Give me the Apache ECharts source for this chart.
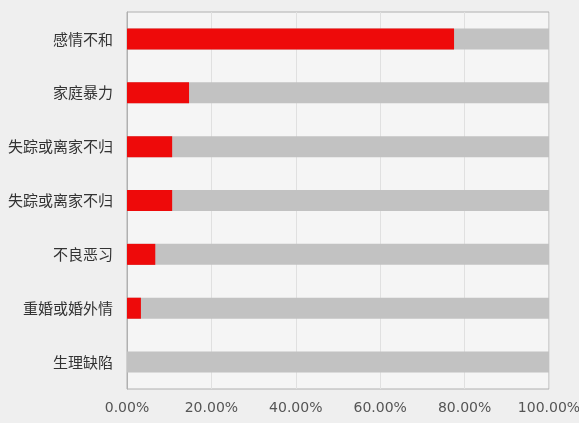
<!DOCTYPE html>
<html>
<head>
<meta charset="utf-8">
<script src="https://cdn.jsdelivr.net/npm/echarts@6/dist/echarts.min.js"></script>
<style>
html,body{margin:0;padding:0;background:#efefef;}
#c{width:579px;height:423px;}
</style>
</head>
<body>
<div id="c"></div>
<script>
const categories = ['感情不和','家庭暴力','失踪或离家不归','失踪或离家不归','不良恶习','重婚或婚外情','生理缺陷'];
const values = [77.5, 14.7, 10.7, 10.7, 6.7, 3.3, 0];
const totals = [100, 100, 100, 100, 100, 100, 100];
const xTicks = [0, 20, 40, 60, 80, 100];

const chart = echarts.init(document.getElementById('c'));
chart.setOption({
  backgroundColor: '#efefef',
  animation: false,
  grid: {
    left: 127, right: 30, top: 12, bottom: 34,
    containLabel: false, outerBoundsMode: 'none',
    show: true, backgroundColor: '#f5f5f5', borderColor: '#b0b0b0', borderWidth: 1
  },
  xAxis: {
    type: 'value', min: xTicks[0], max: xTicks[xTicks.length - 1], interval: 20,
    axisLine: { show: false }, axisTick: { show: false },
    splitLine: { show: true, lineStyle: { color: '#e0e0e0' } },
    axisLabel: {
      margin: 12, color: '#555', fontSize: 14,
      fontFamily: 'DejaVu Sans, sans-serif',
      formatter: v => v.toFixed(2) + '%'
    }
  },
  yAxis: {
    type: 'category', data: categories, inverse: true,
    axisLine: { show: true, lineStyle: { color: '#b0b0b0' } },
    axisTick: { show: false },
    axisLabel: { margin: 14, color: '#333', fontSize: 15, fontFamily: 'Noto Sans CJK SC, sans-serif' }
  },
  series: [
    {
      type: 'bar', data: totals, barWidth: 21, barGap: '-100%',
      itemStyle: { color: '#c2c2c2' }, silent: true, z: 1
    },
    {
      type: 'bar', data: values, barWidth: 21,
      itemStyle: { color: '#ee0a0a' }, z: 2
    }
  ]
});
</script>
</body>
</html>
